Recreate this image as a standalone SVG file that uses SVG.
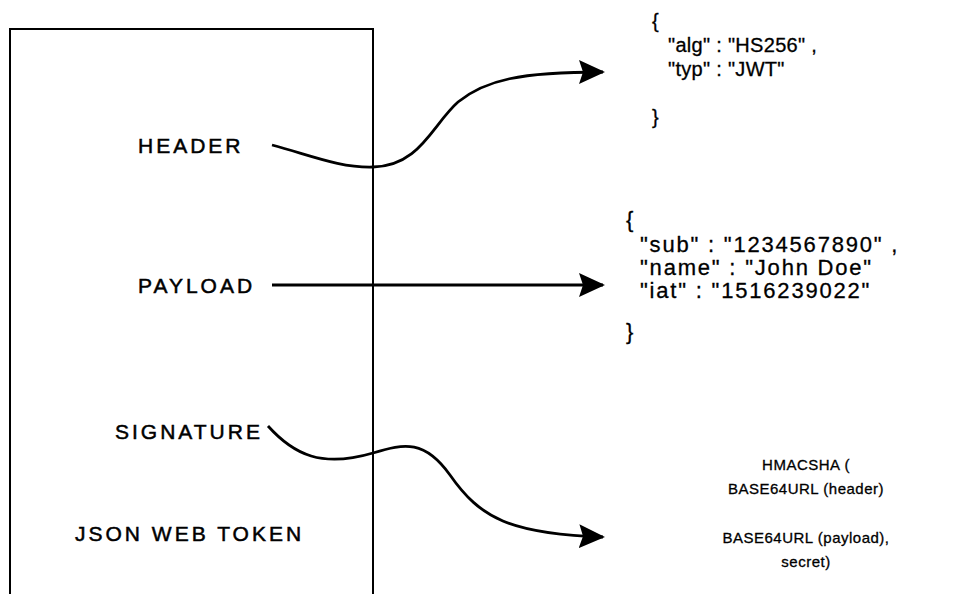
<svg xmlns="http://www.w3.org/2000/svg" width="965" height="594" viewBox="0 0 965 594">
  <defs>
    <style>
      .frame { fill: none; stroke: #000; stroke-width: 2; }
      .wire { fill: none; stroke: #000; stroke-width: 2.8; }
      .label { font-family: "Liberation Sans", Arial, sans-serif; font-size: 21px; letter-spacing: 3px; fill: #000; stroke: #000; stroke-width: 0.5; }
      .code { font-family: "Liberation Sans", Arial, sans-serif; font-size: 20px; letter-spacing: 0.3px; fill: #000; stroke: #000; stroke-width: 0.3; }
      .code.wide { font-size: 22px; letter-spacing: 1.8px; }
      .sig { font-family: "Liberation Sans", Arial, sans-serif; font-size: 15px; letter-spacing: 0.5px; fill: #000; stroke: #000; stroke-width: 0.3; text-anchor: middle; }
    </style>
    <marker id="arrow" markerUnits="userSpaceOnUse" markerWidth="28" markerHeight="26" refX="24" refY="12" orient="auto">
      <path d="M0,0 L26,12 L0,24 L4,12 z" fill="#000"/>
    </marker>
  </defs>

  <rect width="965" height="594" fill="#fff"/>

  <!-- token frame, open at the bottom -->
  <g id="token">
    <path class="frame" d="M10,600 L10,29 L373,29 L373,600"/>
    <text class="label" x="75" y="541">JSON WEB TOKEN</text>
  </g>

  <g id="header">
    <text class="label" x="138" y="153">HEADER</text>
  </g>
  <g id="payload">
    <text class="label" x="138" y="293">PAYLOAD</text>
  </g>
  <g id="signature">
    <text class="label" x="115" y="439">SIGNATURE</text>
  </g>

  <g id="header-json">
    <text class="code" x="652" y="28">{</text>
    <text class="code" x="668" y="52">"alg" : "HS256" ,</text>
    <text class="code" x="668" y="76">"typ" : "JWT"</text>
    <text class="code" x="652" y="124">}</text>
  </g>

  <g id="payload-json">
    <text class="code wide" x="626" y="227">{</text>
    <text class="code wide" x="640" y="252">"sub" : "1234567890" ,</text>
    <text class="code wide" x="640" y="275">"name" : "John Doe"</text>
    <text class="code wide" x="640" y="298">"iat" : "1516239022"</text>
    <text class="code wide" x="626" y="339">}</text>
  </g>

  <g id="signature-formula">
    <text class="sig" x="806" y="470">HMACSHA (</text>
    <text class="sig" x="806" y="494">BASE64URL (header)</text>
    <text class="sig" x="806" y="543">BASE64URL (payload),</text>
    <text class="sig" x="806" y="567">secret)</text>
  </g>

  <g id="connectors">
    <path class="wire" marker-end="url(#arrow)" d="M272,145 C310,155 340,168 373,167 C420,166 432,125 458,102 C485,80 520,72 603,72"/>
    <path class="wire" marker-end="url(#arrow)" d="M272,285 L603,285"/>
    <path class="wire" marker-end="url(#arrow)" d="M268,426 C294,455 322,468 373,453 C405,443 425,440 450,475 C480,518 510,534 603,537"/>
  </g>
</svg>
